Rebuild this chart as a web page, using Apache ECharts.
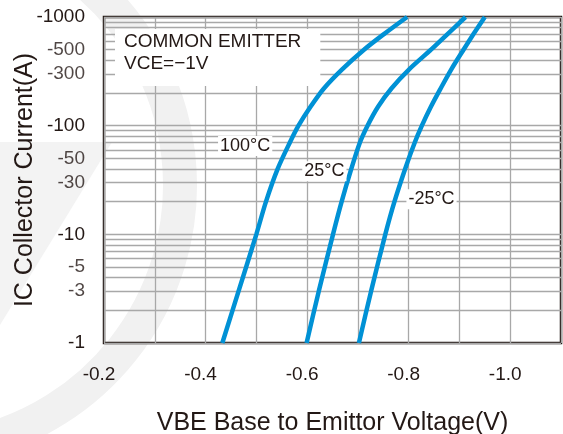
<!DOCTYPE html>
<html>
<head>
<meta charset="utf-8">
<script src="https://cdn.jsdelivr.net/npm/echarts@6/dist/echarts.min.js"></script>
<style>
html, body { margin: 0; padding: 0; background: #fff; }
#chart { width: 563px; height: 434px; }
</style>
</head>
<body>
<div id="chart"></div>
<script>
// curve data: collector current (A, shown as negative) vs VBE (V)
var curveNames = ['100°C', '25°C', '-25°C'];
var currents = [1, 3, 10, 20, 40, 70, 100, 150, 220, 330, 500, 700, 1000];
var vbe100 = [-0.433, -0.465, -0.500, -0.519, -0.542, -0.566, -0.583, -0.607, -0.633, -0.669, -0.712, -0.752, -0.797];
var vbe25 = [-0.599, -0.623, -0.651, -0.668, -0.687, -0.704, -0.719, -0.740, -0.766, -0.801, -0.844, -0.877, -0.912];
var vbeM25 = [-0.702, -0.726, -0.754, -0.772, -0.793, -0.812, -0.826, -0.844, -0.863, -0.884, -0.908, -0.928, -0.950];

// where the temperature tags sit (VBE, IC)
var tagVbe = [-0.478, -0.634, -0.845];
var tagIc = [65, 38, 21];

// minor log grid lines and the extra tick labels on the y axis
var minorLines = [2, 3, 4, 5, 6, 7, 8, 9, 20, 30, 40, 50, 60, 70, 80, 90, 200, 300, 400, 500, 600, 700, 800, 900];
var extraLabels = [3, 5, 30, 50, 300, 500];

var font = "'Liberation Sans', Arial, sans-serif";
var ink = '#231815';
var blue = '#0091d5';
var gridGray = '#a8a8a8';

function pairs(vs) {
    return vs.map(function (v, i) { return [v, currents[i]]; });
}

var curves = [vbe100, vbe25, vbeM25];

var series = [{
    // minor grid lines of the log axis
    type: 'line',
    data: [],
    z: 1,
    silent: true,
    markLine: {
        z: 1,
        silent: true,
        symbol: 'none',
        animation: false,
        lineStyle: { color: gridGray, width: 1.3, type: 'solid' },
        label: { show: false },
        data: minorLines.map(function (v) { return { yAxis: v }; })
    }
}, {
    // extra y tick labels (-3, -5, -30 ...)
    type: 'scatter',
    data: extraLabels.map(function (v) { return [-0.2, v]; }),
    symbolSize: 0,
    clip: false,
    silent: true,
    z: 1,
    label: {
        show: true,
        position: 'left',
        distance: 19,
        color: ink,
        fontSize: 19,
        fontFamily: font,
        formatter: function (p) { return '-' + p.value[1]; }
    }
}];

curves.forEach(function (vs, k) {
    series.push({
        name: curveNames[k],
        type: 'line',
        data: pairs(vs),
        smooth: 0.3,
        showSymbol: false,
        z: 4,
        lineStyle: { color: blue, width: 4.5 },
        markPoint: {
            z: 6,
            symbol: 'rect',
            symbolSize: 1,
            itemStyle: { color: 'rgba(0,0,0,0)' },
            label: {
                show: true,
                position: 'inside',
                formatter: curveNames[k],
                color: ink,
                fontSize: 18,
                fontFamily: font,
                backgroundColor: '#fff',
                padding: [1, 2]
            },
            data: [{ coord: [tagVbe[k], tagIc[k]] }]
        }
    });
});

var chart = echarts.init(document.getElementById('chart'));
chart.setOption({
    animation: false,
    backgroundColor: '#fff',
    title: {
        text: 'COMMON EMITTER\nVCE=−1V',
        left: 115,
        top: 29,
        padding: [2, 19, 11, 9],
        backgroundColor: '#fff',
        textStyle: {
            color: ink,
            fontSize: 19,
            fontWeight: 'normal',
            fontFamily: font,
            lineHeight: 22
        }
    },
    grid: {
        left: 104, right: 2, top: 17, bottom: 91,
        outerBoundsMode: 'none',
        containLabel: false,
        show: true,
        borderColor: ink,
        borderWidth: 2.5,
        backgroundColor: 'transparent'
    },
    xAxis: {
        type: 'value',
        inverse: true,
        min: -1.1,
        max: -0.2,
        interval: 0.1,
        name: 'VBE Base to Emittor Voltage(V)',
        nameLocation: 'middle',
        nameGap: 68,
        nameTextStyle: { color: ink, fontSize: 25, fontFamily: font },
        axisLine: { show: false },
        axisTick: { show: false },
        axisLabel: {
            color: ink,
            fontSize: 19,
            fontFamily: font,
            margin: 22,
            padding: [0, 10, 0, 0],
            formatter: function (v) {
                var t = Math.round(v * 10);
                return (t % 2 === 0 && t >= -10) ? v.toFixed(1) : '';
            }
        },
        splitLine: { show: true, lineStyle: { color: gridGray, width: 1.3 } }
    },
    yAxis: {
        type: 'log',
        logBase: 10,
        min: 1,
        max: 1000,
        name: 'IC Collector Current(A)',
        nameLocation: 'middle',
        nameGap: 66,
        nameMoveOverlap: false,
        nameTextStyle: { color: ink, fontSize: 25, fontFamily: font },
        axisLine: { show: false },
        axisTick: { show: false },
        axisLabel: {
            color: ink,
            fontSize: 19,
            fontFamily: font,
            margin: 19,
            formatter: function (v) { return '-' + v; }
        },
        splitLine: { show: true, lineStyle: { color: gridGray, width: 1.3 } }
    },
    graphic: [{
        // faint watermark behind the chart
        type: 'arc',
        z: -1,
        silent: true,
        shape: { cx: -85, cy: 185, r: 265, startAngle: -0.9, endAngle: 1.35, clockwise: true },
        style: { fill: null, stroke: '#f1f1f1', lineWidth: 34 }
    }, {
        type: 'polygon',
        z: -1,
        silent: true,
        shape: { points: [[0, 142], [112, 142], [0, 325]] },
        style: { fill: '#f3f3f3' }
    }],
    series: series
});
</script>
</body>
</html>
